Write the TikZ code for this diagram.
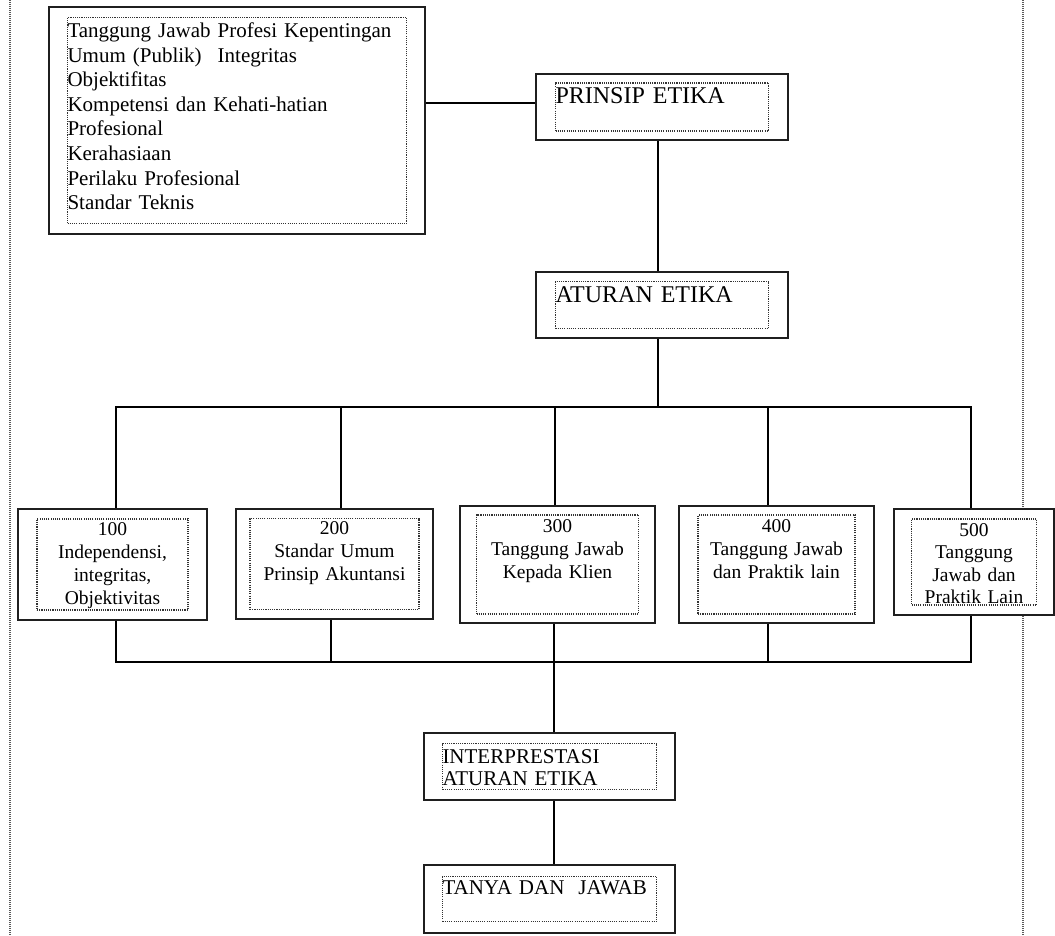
\documentclass[tikz,border=0pt]{standalone}
\usepackage{fontspec}
\setmainfont{Liberation Serif}
\usepackage{tikz}
\usetikzlibrary{positioning}

\begin{document}
\begin{tikzpicture}[x=1pt, y=-1pt,
  every node/.style={font=\fontsize{19.5}{23}\selectfont},
  outerbox/.style={draw=black!88, line width=1.8pt, fill=white, inner sep=0pt},
  framebox/.style={draw=black!80, line width=1.2pt, dash pattern=on 1.1pt off 1.1pt, inner sep=0pt},
  link/.style={line width=1.8pt},
  margin/.style={draw=black!65, line width=1.4pt, dash pattern=on 1pt off 1pt}]
\useasboundingbox (0,0) rectangle (1055,936);
\draw[margin] (10,0) -- (10,936);
\draw[margin] (1023,0) -- (1023,936);
% principle list
\node[outerbox, minimum width=376pt, minimum height=227pt] (daftar) at (237,120.5) {};
\node[framebox, text width=339pt, text height=20pt, text depth=186pt, align=left, font=\fontsize{21}{24.6}\selectfont] (daftarf) at (daftar) {Tanggung Jawab Profesi Kepentingan\\Umum (Publik)\hspace{16pt}Integritas\\Objektifitas\\Kompetensi dan Kehati-hatian\\Profesional\\Kerahasiaan\\Perilaku Profesional\\Standar Teknis};
% main column
\node[outerbox, minimum width=252pt, minimum height=66pt] (prinsip) at (662,107) {};
\node[framebox, text width=213pt, text height=21pt, text depth=27pt, align=left, font=\fontsize{24}{26}\selectfont] (prinsipf) at (prinsip) {PRINSIP ETIKA};
\node[outerbox, minimum width=252pt, minimum height=66pt] (aturan) at (662,305) {};
\node[framebox, text width=213pt, text height=21pt, text depth=26pt, align=left, font=\fontsize{24}{26}\selectfont] (aturanf) at (aturan) {ATURAN ETIKA};
% rule groups
\node[outerbox, minimum width=189pt, minimum height=111pt] (k100) at (112.5,564.5) {};
\node[framebox, text width=151pt, text height=16pt, text depth=75pt, align=center] (k100f) at (k100) {100\\Independensi,\\integritas,\\Objektivitas};
\node[outerbox, minimum width=197pt, minimum height=110pt] (k200) at (334.5,564) {};
\node[framebox, text width=169pt, text height=16pt, text depth=75pt, align=center] (k200f) at (k200) {200\\Standar Umum\\Prinsip Akuntansi};
\node[outerbox, minimum width=195pt, minimum height=117pt] (k300) at (557.5,564.5) {};
\node[framebox, text width=162pt, text height=17pt, text depth=82pt, align=center] (k300f) at (k300) {300\\Tanggung Jawab\\Kepada Klien};
\node[outerbox, minimum width=195pt, minimum height=117pt] (k400) at (776.5,564.5) {};
\node[framebox, text width=157pt, text height=17pt, text depth=82pt, align=center] (k400f) at (k400) {400\\Tanggung Jawab\\dan Praktik lain};
\node[outerbox, minimum width=160pt, minimum height=106pt] (k500) at (974,562) {};
\node[framebox, text width=125pt, text height=17pt, text depth=69pt, align=center, font=\fontsize{19.5}{22.5}\selectfont] (k500f) at (k500) {500\\Tanggung\\Jawab dan\\Praktik Lain};
% lower column
\node[outerbox, minimum width=251pt, minimum height=67pt] (interp) at (549.5,766.5) {};
\node[framebox, text width=214pt, text height=20pt, text depth=26pt, align=left, font=\fontsize{21}{22}\selectfont] (interpf) at (interp) {INTERPRESTASI\\ATURAN ETIKA};
\node[outerbox, minimum width=251pt, minimum height=68pt] (tanya) at (549.5,899) {};
\node[framebox, text width=214pt, text height=18pt, text depth=27pt, align=left, font=\fontsize{21}{22}\selectfont] (tanyaf) at (tanya) {TANYA DAN\ \ JAWAB};
% connectors
\coordinate (atasbus) at (658,407);
\coordinate (bawahbus) at (554,662);
\draw[link] ([yshift=4pt]prinsip.west) -- ([yshift=4pt]prinsip.west -| daftar.east);
\draw[link] ([xshift=-4pt]prinsip.south) -- ([xshift=-4pt]aturan.north);
\draw[link] ([xshift=-4pt]aturan.south) -- (atasbus);
\draw[link] ([xshift=3.5pt]k100.north) |- (atasbus) -| ([xshift=-3pt]k500.north);
\draw[link] ([xshift=6.5pt]k200.north) -- ([xshift=6.5pt]k200.north |- atasbus);
\draw[link] ([xshift=-2.5pt]k300.north) -- ([xshift=-2.5pt]k300.north |- atasbus);
\draw[link] ([xshift=-8.5pt]k400.north) -- ([xshift=-8.5pt]k400.north |- atasbus);
\draw[link] ([xshift=3.5pt]k100.south) |- (bawahbus) -| ([xshift=-3pt]k500.south);
\draw[link] ([xshift=-3.5pt]k200.south) -- ([xshift=-3.5pt]k200.south |- bawahbus);
\draw[link] ([xshift=-8.5pt]k400.south) -- ([xshift=-8.5pt]k400.south |- bawahbus);
\draw[link] ([xshift=-3.5pt]k300.south) -- (bawahbus |- interp.north);
\draw[link] ([xshift=4.5pt]interp.south) -- ([xshift=4.5pt]tanya.north);
\end{tikzpicture}
\end{document}
